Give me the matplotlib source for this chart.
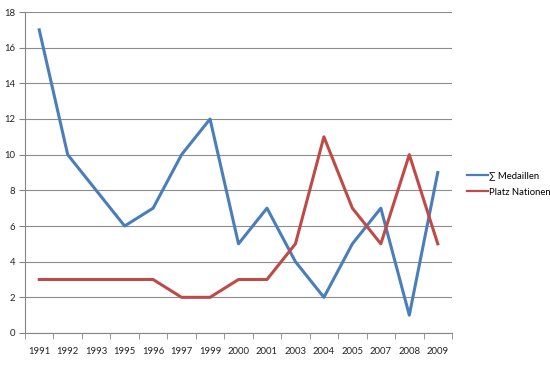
import matplotlib.pyplot as plt
import numpy as np

years = ["1991", "1992", "1993", "1995", "1996", "1997", "1999", "2000",
         "2001", "2003", "2004", "2005", "2007", "2008", "2009"]
medaillen = [17, 10, 8, 6, 7, 10, 12, 5, 7, 4, 2, 5, 7, 1, 9]
platz_nationen = [3, 3, 3, 3, 3, 2, 2, 3, 3, 5, 11, 7, 5, 10, 5]

plt.rcParams['font.family'] = ['Lato', 'DejaVu Sans']

fig = plt.figure(figsize=(5.5, 3.65), dpi=100)
ax = fig.add_axes([25 / 550, 1 - 333 / 365, (452 - 25) / 550, (333 - 12) / 365])

x = np.arange(len(years))
ax.plot(x, medaillen, color='#4A7EBB', lw=2.2, label='\u2211 Medaillen')
ax.plot(x, platz_nationen, color='#BE4B48', lw=2.2, label='Platz Nationen')

ax.set_xlim(-0.5, len(years) - 0.5)
ax.set_ylim(0, 18)
ax.set_yticks(range(0, 19, 2))
ax.set_xticks(x)
ax.set_xticklabels(years)
ax.set_xticks(np.arange(-0.5, len(years)), minor=True)
ax.tick_params(axis='x', which='major', length=0, pad=10, labelsize=6.8, colors='#222222')
ax.tick_params(axis='x', which='minor', length=4, color='#868686', direction='out')
ax.tick_params(axis='y', length=4, color='#868686', pad=3, labelsize=6.8, labelcolor='#222222')

ax.grid(axis='y', color='#8c8c8c', lw=0.8)
ax.set_axisbelow(True)
for side in ['top', 'right']:
    ax.spines[side].set_visible(False)
for side in ['left', 'bottom']:
    ax.spines[side].set_color('#868686')
    ax.spines[side].set_linewidth(0.8)

ax.legend(loc='center left', bbox_to_anchor=(467 / 550, 1 - 184 / 365),
          bbox_transform=fig.transFigure, frameon=False, borderpad=0,
          borderaxespad=0, fontsize=6.8, handlelength=2.2, handletextpad=0.15,
          labelspacing=0.75)
for line in ax.get_legend().get_lines():
    line.set_linewidth(1.6)

fig.savefig('out.png', dpi=100, facecolor='white')
